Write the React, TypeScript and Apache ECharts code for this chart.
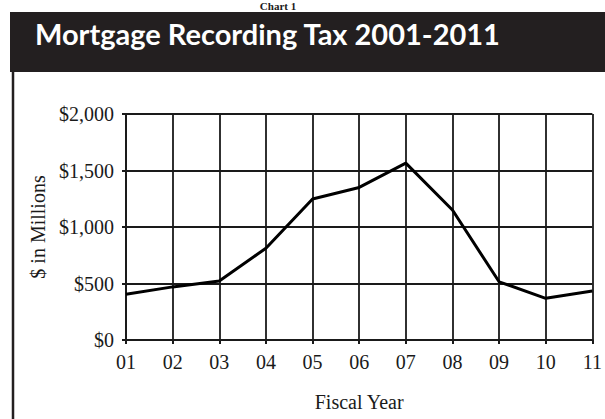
import React, { useEffect, useRef } from "react";
import * as echarts from "echarts";

const years = ["01", "02", "03", "04", "05", "06", "07", "08", "09", "10", "11"];
const taxValues = [405, 470, 523, 812, 1248, 1350, 1565, 1150, 515, 369, 434];
const yTicks = { min: 0, max: 2000, interval: 500 };
const titleText = "Mortgage Recording Tax 2001-2011";
const chartLabel = "Chart 1";
const xName = "Fiscal Year";
const yName = "$ in Millions";

const INK = "#1a1a1a";
const SERIF = "'Liberation Serif', serif";

export default function App() {
  const ref = useRef<HTMLDivElement>(null);
  useEffect(() => {
    if (!ref.current) return;
    const chart = echarts.init(ref.current, undefined, { renderer: "svg" });
    chart.setOption({
      animation: false,
      backgroundColor: "#ffffff",
      graphic: [
        {
          type: "text",
          x: 278,
          y: 0,
          style: {
            text: chartLabel,
            font: "bold 11px 'Liberation Serif', serif",
            fill: INK,
            align: "center",
            verticalAlign: "top",
          },
        },
        {
          type: "rect",
          shape: { x: 10, y: 12, width: 600, height: 60 },
          style: { fill: "#231f20" },
        },
        {
          type: "text",
          x: 35,
          y: 33,
          style: {
            text: titleText,
            font: "bold 29px Lato, sans-serif",
            fill: "#ffffff",
            verticalAlign: "middle",
            align: "left",
          },
        },
        {
          type: "line",
          shape: { x1: 13, y1: 72, x2: 13, y2: 430 },
          style: { stroke: "#231f20", lineWidth: 2.5 },
        },
      ],
      grid: { left: 126, right: 12.5, top: 114, bottom: 79, containLabel: false },
      xAxis: {
        type: "category",
        data: years,
        boundaryGap: false,
        name: xName,
        nameLocation: "middle",
        nameGap: 52,
        nameTextStyle: { fontFamily: SERIF, fontSize: 20, color: INK },
        axisLine: { lineStyle: { color: INK, width: 2 } },
        axisTick: { show: true, length: 4, lineStyle: { color: INK, width: 2 } },
        axisLabel: { fontFamily: SERIF, fontSize: 20, color: INK, margin: 12 },
        splitLine: { show: true, lineStyle: { color: INK, width: 1.8 } },
      },
      yAxis: {
        type: "value",
        min: yTicks.min,
        max: yTicks.max,
        interval: yTicks.interval,
        name: yName,
        nameLocation: "middle",
        nameGap: 77,
        nameTextStyle: { fontFamily: SERIF, fontSize: 20, color: INK },
        axisLine: { show: true, lineStyle: { color: INK, width: 2 } },
        axisTick: { show: true, length: 4, lineStyle: { color: INK, width: 2 } },
        axisLabel: {
          fontFamily: SERIF,
          fontSize: 20,
          color: INK,
          margin: 12,
          formatter: (v: number) => "$" + v.toLocaleString("en-US"),
        },
        splitLine: { show: true, lineStyle: { color: INK, width: 1.8 } },
      },
      series: [
        {
          type: "line",
          data: taxValues,
          symbol: "none",
          lineStyle: { color: "#000", width: 3 },
        },
      ],
    });
    return () => chart.dispose();
  }, []);
  return (
    <div
      ref={ref}
      style={{ position: "fixed", left: 0, top: 0, width: 605, height: 419 }}
    />
  );
}
